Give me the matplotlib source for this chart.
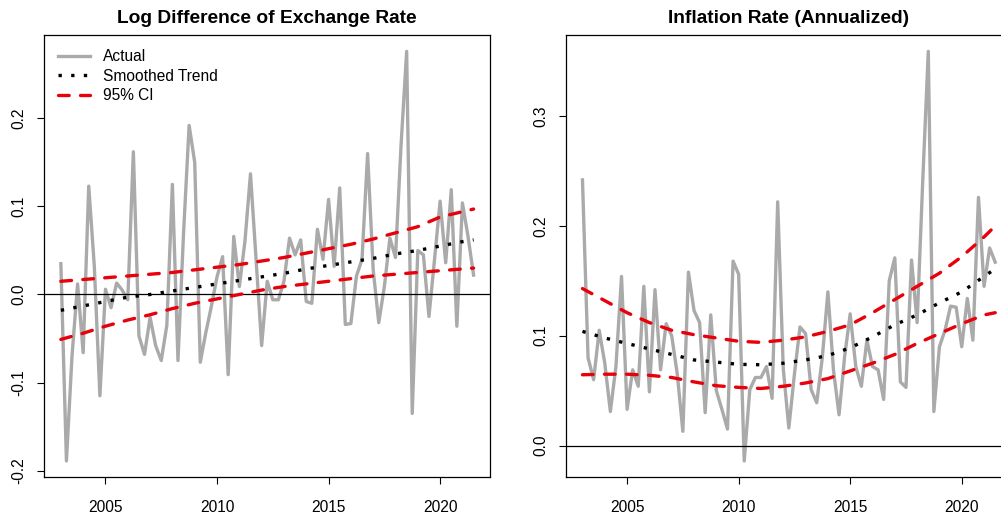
import numpy as np
import matplotlib.pyplot as plt

plt.rcParams['font.family'] = ['Liberation Sans', 'DejaVu Sans']

# === Quarterly data, 2003Q1 - 2021Q3 ===
quarters = 2003 + np.arange(75) / 4

exch_actual = [
    0.035, -0.189, -0.070, 0.012, -0.066, 0.123, 0.032, -0.115, 0.006, -0.015,
    0.013, 0.005, -0.006, 0.162, -0.047, -0.068, -0.026, -0.058, -0.075, -0.035,
    0.125, -0.075, 0.070, 0.192, 0.150, -0.077, -0.043, -0.013, 0.020, 0.043,
    -0.091, 0.066, 0.009, 0.060, 0.137, 0.040, -0.058, 0.015, -0.006, -0.006,
    0.015, 0.064, 0.045, 0.062, -0.008, -0.010, 0.074, 0.040, 0.108, 0.032,
    0.121, -0.034, -0.033, 0.021, 0.040, 0.160, 0.028, -0.032, 0.009, 0.064,
    0.042, 0.170, 0.276, -0.135, 0.050, 0.045, -0.025, 0.040, 0.106, 0.036,
    0.119, -0.036, 0.104, 0.066, 0.022,
]

infl_actual = [
    0.242, 0.080, 0.060, 0.105, 0.075, 0.031, 0.072, 0.154, 0.033, 0.069,
    0.054, 0.145, 0.049, 0.142, 0.069, 0.111, 0.100, 0.065, 0.013, 0.158,
    0.123, 0.112, 0.030, 0.119, 0.050, 0.033, 0.015, 0.168, 0.156, -0.014,
    0.051, 0.062, 0.062, 0.072, 0.043, 0.222, 0.070, 0.016, 0.065, 0.108,
    0.102, 0.051, 0.039, 0.080, 0.140, 0.069, 0.028, 0.081, 0.120, 0.072,
    0.054, 0.096, 0.072, 0.069, 0.042, 0.150, 0.171, 0.058, 0.053, 0.169,
    0.112, 0.240, 0.359, 0.031, 0.090, 0.105, 0.127, 0.126, 0.090, 0.134,
    0.096, 0.226, 0.145, 0.180, 0.167,
]

# === Smoothed trend and 95% band, read at yearly points ===
trend_years = [2003, 2004, 2005, 2006, 2007, 2008, 2009, 2010, 2011, 2012,
               2013, 2014, 2015, 2016, 2017, 2018, 2019, 2020, 2021, 2021.5]

exch_trend = [-0.018, -0.013, -0.008, -0.003, 0.000, 0.004, 0.008, 0.012, 0.016, 0.020,
              0.024, 0.029, 0.033, 0.037, 0.041, 0.046, 0.050, 0.055, 0.060, 0.062]
exch_upper = [0.015, 0.017, 0.019, 0.021, 0.023, 0.025, 0.028, 0.031, 0.034, 0.038,
              0.042, 0.047, 0.052, 0.057, 0.063, 0.070, 0.077, 0.088, 0.094, 0.097]
exch_lower = [-0.051, -0.044, -0.036, -0.029, -0.023, -0.016, -0.010, -0.005, 0.000, 0.005,
              0.009, 0.012, 0.015, 0.018, 0.021, 0.023, 0.025, 0.027, 0.029, 0.030]

infl_trend = [0.104, 0.098, 0.093, 0.088, 0.083, 0.078, 0.076, 0.074, 0.0736, 0.075,
              0.078, 0.082, 0.089, 0.099, 0.110, 0.119, 0.130, 0.140, 0.154, 0.161]
infl_upper = [0.143, 0.132, 0.121, 0.112, 0.105, 0.101, 0.098, 0.095, 0.094, 0.096,
              0.099, 0.104, 0.110, 0.121, 0.133, 0.145, 0.157, 0.172, 0.190, 0.200]
infl_lower = [0.0645, 0.065, 0.065, 0.064, 0.062, 0.058, 0.0545, 0.053, 0.052, 0.054,
              0.057, 0.061, 0.068, 0.075, 0.083, 0.093, 0.102, 0.111, 0.119, 0.121]


def r_range(vals):
    # R-style axis range: data range extended by 4% on each side
    lo, hi = min(vals), max(vals)
    pad = 0.04 * (hi - lo)
    return lo - pad, hi + pad


def draw_panel(ax, actual, trend, upper, lower, title, yticks):
    ax.plot(quarters, actual, color='#AAAAAA', lw=2.4, label='Actual')
    ax.axhline(0, color='black', lw=0.9)
    ax.plot(trend_years, trend, color='black', lw=2.4, linestyle=(0, (1, 2.8)),
            label='Smoothed Trend')
    ax.plot(trend_years, upper, color='#E8000B', lw=2.4, linestyle=(0, (3.2, 3.4)),
            dash_capstyle='round', label='95% CI')
    ax.plot(trend_years, lower, color='#E8000B', lw=2.4, linestyle=(0, (3.2, 3.4)),
            dash_capstyle='round')

    ax.set_xlim(r_range(quarters))
    ax.set_ylim(r_range(actual))
    ax.set_xticks([2005, 2010, 2015, 2020])
    ax.set_yticks(yticks)
    ax.set_yticklabels([f'{v:.1f}' for v in yticks], rotation=90, va='center', ha='right')
    ax.tick_params(direction='out', length=5, width=0.8, labelsize=11.2, colors='black')
    ax.tick_params(axis='x', pad=11)
    ax.tick_params(axis='y', pad=8)
    for sp in ax.spines.values():
        sp.set_linewidth(0.9)
    ax.set_title(title, fontsize=13.8, fontweight='bold', pad=9)


fig = plt.figure(figsize=(10.01, 5.19), dpi=100)
ax1 = fig.add_axes([0.0443, 0.0803, 0.4453, 0.8522])
ax2 = fig.add_axes([0.5654, 0.0803, 0.4453, 0.8522])

draw_panel(ax1, exch_actual, exch_trend, exch_upper, exch_lower,
           'Log Difference of Exchange Rate', [-0.2, -0.1, 0.0, 0.1, 0.2])
draw_panel(ax2, infl_actual, infl_trend, infl_upper, infl_lower,
           'Inflation Rate (Annualized)', [0.0, 0.1, 0.2, 0.3])

ax1.legend(loc='upper left', frameon=False, fontsize=11.2, handlelength=2.05,
           handletextpad=0.8, labelspacing=0.29, borderaxespad=0.5)

fig.savefig('out.png', dpi=100)
